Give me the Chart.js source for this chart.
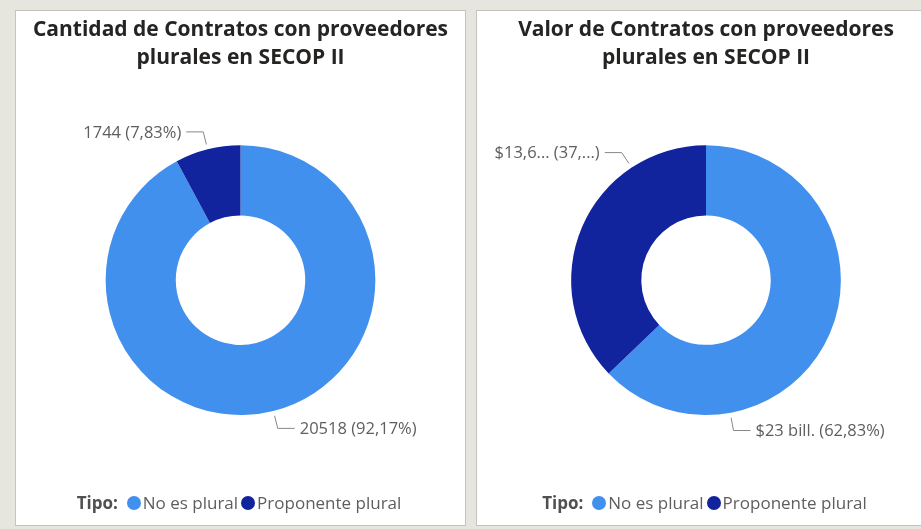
<!DOCTYPE html>
<html>
<head>
<meta charset="utf-8">
<script src="https://cdn.jsdelivr.net/npm/chart.js@4"></script>
<style>
  body { margin: 0; width: 921px; height: 529px; overflow: hidden; background: #e6e6de; font-family: "Open Sans", sans-serif; }
  .panel { position: absolute; top: 10px; height: 516px; background: #fff; border: 1px solid #c4c4be; box-sizing: border-box; }
  .panel canvas { position: absolute; left: 0; top: 0; }
  .legend { position: absolute; left: 0; right: 0; top: 480px; text-align: center; font-size: 17px; color: #605e5c; white-space: nowrap; }
  .legend b { color: #505050; margin-right: 9px; }
  .legend .dot { display: inline-block; width: 14px; height: 14px; border-radius: 50%; vertical-align: -1px; margin-right: 2px; }
  .legend .item { margin-right: 3px; }
</style>
</head>
<body>
<div class="panel" id="p1" style="left:15px;width:451px;">
  <canvas id="chart1"></canvas>
  <div class="legend" id="legend1"></div>
</div>
<div class="panel" id="p2" style="left:476px;width:460px;">
  <canvas id="chart2"></canvas>
  <div class="legend" id="legend2"></div>
</div>
<script>
// data
const categories = ['No es plural', 'Proponente plural']
const colors = ['#4190ee', '#12239e']
const contractCounts = [20518, 1744]
const contractValues = [22.99, 13.60]   // billones de pesos
const valueLabels = ['$23 bill. (62,83%)', '$13,6... (37,...)']
const title1 = ['Cantidad de Contratos con proveedores', 'plurales en SECOP II']
const title2 = ['Valor de Contratos con proveedores', 'plurales en SECOP II']

function pct(v, arr) {
    let total = arr.reduce((a, b) => a + b, 0)
    return (v / total * 100).toFixed(2).replace('.', ',') + '%'
}
const countLabels = contractCounts.map(v => v + ' (' + pct(v, contractCounts) + ')')

// labels with leader lines, like the Power BI detail labels
const leaderLabels = {
    id: 'leaderLabels',
    afterDatasetsDraw(chart, args, opts) {
        const ctx = chart.ctx
        const meta = chart.getDatasetMeta(0)
        ctx.save()
        ctx.font = '16.5px "Open Sans"'
        ctx.textBaseline = 'middle'
        meta.data.forEach(function (arc, i) {
            let a = arc.startAngle + (arc.endAngle - arc.startAngle) * opts.anchor[i]
            let ux = Math.cos(a), uy = Math.sin(a)
            let r = arc.outerRadius + 5
            let x0 = arc.x + ux * r, y0 = arc.y + uy * r
            let x1 = x0 + ux * 13, y1 = y0 + uy * 13
            let side = ux < 0 ? -1 : 1
            let x2 = x1 + side * 17
            ctx.strokeStyle = '#8a8886'
            ctx.lineWidth = 1
            ctx.beginPath()
            ctx.moveTo(x0, y0)
            ctx.lineTo(x1, y1)
            ctx.lineTo(x2, y1)
            ctx.stroke()
            ctx.fillStyle = '#605e5c'
            ctx.textAlign = side < 0 ? 'right' : 'left'
            ctx.fillText(opts.labels[i], x2 + side * 5, y1 + 1)
        })
        ctx.restore()
    }
}

function makeChart(id, w, title, values, labels, anchor) {
    let canvas = document.getElementById(id)
    canvas.width = w
    canvas.height = 514
    canvas.style.width = w + 'px'
    canvas.style.height = '514px'
    return new Chart(canvas, {
        type: 'doughnut',
        data: {
            labels: categories,
            datasets: [{
                data: values,
                backgroundColor: colors,
                borderWidth: 0,
                hoverBorderWidth: 0,
                hoverOffset: 0,
                offset: 0
            }]
        },
        options: {
            responsive: false,
            animation: false,
            cutout: '48%',
            layout: { padding: { top: 0, bottom: 110, left: 0, right: 0 } },
            plugins: {
                legend: { display: false },
                tooltip: { enabled: false },
                title: {
                    display: true,
                    text: title,
                    color: '#252423',
                    font: { family: '"Open Sans"', size: 21, weight: 'bold', lineHeight: 1.34 },
                    padding: { top: 5, bottom: 73 }
                },
                leaderLabels: { labels: labels, anchor: anchor }
            }
        },
        plugins: [leaderLabels]
    })
}

function makeLegend(id) {
    let html = '<b>Tipo:</b>'
    categories.forEach(function (c, i) {
        html += '<span class="item"><span class="dot" style="background:' + colors[i] + '"></span>' + c + '</span>'
    })
    document.getElementById(id).innerHTML = html
}

makeChart('chart1', 449, title1, contractCounts, countLabels, [0.5, 0.5])
makeChart('chart2', 458, title2, contractValues, valueLabels, [0.75, 0.75])
makeLegend('legend1')
makeLegend('legend2')
</script>
</body>
</html>
